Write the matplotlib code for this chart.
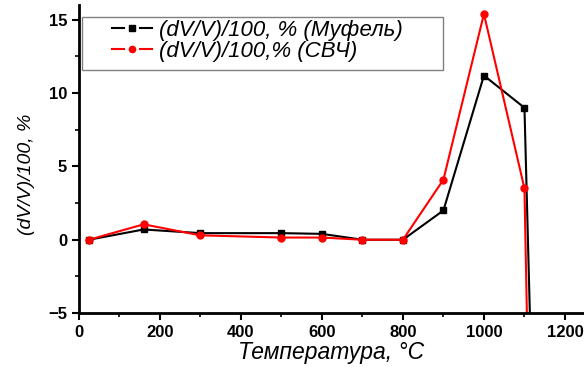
import numpy as np
import matplotlib
matplotlib.use("Agg")
import matplotlib.pyplot as plt
from matplotlib.lines import Line2D
from matplotlib.patches import Rectangle
from matplotlib.legend_handler import HandlerBase

plt.rcParams['font.family'] = ['Liberation Sans', 'DejaVu Sans']

# data
temp_muf = [25, 160, 300, 500, 600, 700, 800, 900, 1000, 1100, 1120]
dv_muf = [0, 0.7, 0.45, 0.45, 0.4, 0, 0, 2.0, 11.2, 9.0, -12]
temp_svch = [25, 160, 300, 500, 600, 700, 800, 900, 1000, 1100, 1120]
dv_svch = [0, 1.05, 0.3, 0.15, 0.15, 0, 0, 4.1, 15.4, 3.5, -25]


class GapHandler(HandlerBase):
    # Origin style handle: -[marker]- with small gaps round the marker
    def create_artists(self, legend, orig_handle, xdescent, ydescent,
                       width, height, fontsize, trans):
        x0 = -xdescent + 0.4 * width
        x1 = -xdescent + width
        mid = (x0 + x1) / 2
        gap = 0.2 * (x1 - x0)
        y = height / 2 - ydescent
        c = orig_handle.get_color()
        lw = orig_handle.get_linewidth()
        a = Line2D([x0, mid - gap], [y, y], color=c, lw=lw)
        b = Line2D([mid + gap, x1], [y, y], color=c, lw=lw)
        m = Line2D([mid], [y], marker=orig_handle.get_marker(), ms=4.5,
                   color=c, ls='none')
        for art in (a, b, m):
            art.set_transform(trans)
        return [a, b, m]


fig = plt.figure(figsize=(5.84, 3.67), dpi=100)
ax = fig.add_axes([0.135, 0.147, 0.865, 0.839])

l1, = ax.plot(temp_muf, dv_muf, 'k-', marker='s', ms=5, lw=1.5,
              label='(dV/V)/100, % (Муфель)')
l2, = ax.plot(temp_svch, dv_svch, '-', color='red', marker='o', ms=5, lw=1.5,
              label='(dV/V)/100,% (СВЧ)')

ax.set_xlim(0, 1247)
ax.set_ylim(-5, 16)
ax.set_xticks([0, 200, 400, 600, 800, 1000, 1200])
ax.set_xticks(np.arange(100, 1247, 200), minor=True)
ax.set_yticks([-5, 0, 5, 10, 15])
ax.set_yticks([-2.5, 2.5, 7.5, 12.5], minor=True)
ax.tick_params(which='major', length=5, width=1.5, labelsize=12)
ax.tick_params(which='minor', length=3, width=1.2)
for lab in ax.get_xticklabels() + ax.get_yticklabels():
    lab.set_fontweight('bold')

for s in ['top', 'right']:
    ax.spines[s].set_visible(False)
for s in ['left', 'bottom']:
    ax.spines[s].set_linewidth(2)

ax.set_xlabel('Температура, °C', fontsize=16.5, style='italic', labelpad=1)
ax.set_ylabel('(dV/V)/100, %', fontsize=14, style='italic')
ax.yaxis.set_label_coords(-0.087, 0.45)

# legend box drawn separately so it can be wider than the text
ax.add_patch(Rectangle((0.006, 0.79), 0.715, 0.171, transform=ax.transAxes,
                       facecolor='white', edgecolor='gray', lw=1, zorder=4))
leg = ax.legend(handles=[l1, l2], loc='upper left',
                bbox_to_anchor=(0.006, 0.962),
                prop={'style': 'italic', 'size': 16}, fancybox=False,
                handler_map={Line2D: GapHandler()},
                handlelength=3.0, handletextpad=0.3, borderpad=0.15,
                labelspacing=0.0, borderaxespad=0, frameon=False)
leg.set_zorder(5)

fig.savefig('out.png', dpi=100)
